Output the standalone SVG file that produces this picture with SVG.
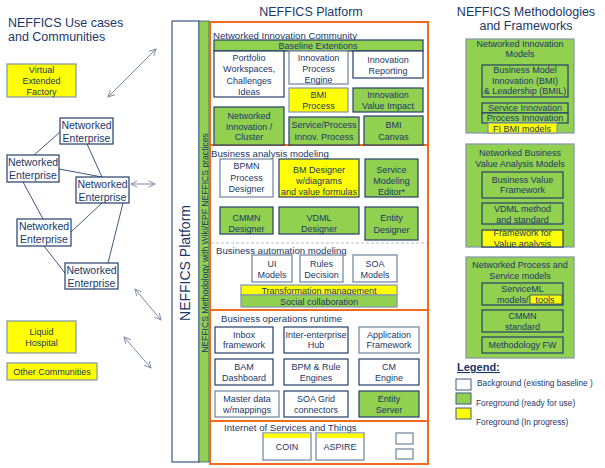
<svg xmlns="http://www.w3.org/2000/svg" width="605" height="468" viewBox="0 0 605 468">
<defs>
<style>
text{font-family:"Liberation Sans",Arial,sans-serif;fill:#1B3768;}
.t{font-size:12.5px;}
.s{font-size:9.6px;}
.b{font-size:9px;text-anchor:middle;}
.ne{font-size:10.5px;text-anchor:middle;}
.lg{font-size:8.3px;}
.w{fill:#fff;stroke:#243F6B;stroke-width:1.2;}
.wg{fill:#fff;stroke:#8194AB;stroke-width:1.4;}
.g{fill:#92D050;stroke:#243F6B;stroke-width:1.2;}
.gg{fill:#92D050;stroke:#8194AB;stroke-width:1.2;}
.y{fill:#FFFF00;stroke:#243F6B;stroke-width:1.2;}
.yg{fill:#FFFF00;stroke:#8194AB;stroke-width:1.2;}
.or{fill:none;stroke:#F26B1D;stroke-width:2;}
.ln{stroke:#3D5A80;stroke-width:1;fill:none;}
.ar{stroke:#7E8DA3;stroke-width:1;fill:none;marker-start:url(#ah);marker-end:url(#ah);}
</style>
<marker id="ah" viewBox="0 0 10 10" refX="9" refY="5" markerWidth="8" markerHeight="8" orient="auto-start-reverse" markerUnits="userSpaceOnUse">
<path d="M1,1 L9,5 L1,9" fill="none" stroke="#7E8DA3" stroke-width="1.2"/>
</marker>
<clipPath id="cf"><rect x="482" y="230" width="81" height="17"/></clipPath>
</defs>

<!-- Titles -->
<text class="t" x="8" y="27">NEFFICS Use cases</text>
<text class="t" x="8" y="40.5">and Communities</text>
<text class="t" x="311" y="16" text-anchor="middle">NEFFICS Platform</text>
<text class="t" x="526" y="16" text-anchor="middle">NEFFICS Methodologies</text>
<text class="t" x="526" y="30" text-anchor="middle">and Frameworks</text>

<!-- Connectors -->
<g id="connectors">
<line class="ln" x1="60" y1="132" x2="34" y2="155"/>
<line class="ln" x1="87" y1="144" x2="102" y2="177"/>
<line class="ln" x1="59" y1="169" x2="102" y2="177"/>
<line class="ln" x1="23" y1="182" x2="43" y2="219"/>
<line class="ln" x1="102" y1="203" x2="71" y2="232"/>
<line class="ln" x1="123" y1="203" x2="108" y2="263"/>
<line class="ln" x1="44" y1="246" x2="65" y2="273"/>
<line class="ar" x1="131" y1="184" x2="155" y2="184"/>
<line class="ar" x1="108" y1="97" x2="156" y2="49"/>
<line class="ar" x1="135" y1="289" x2="161" y2="320"/>
<line class="ar" x1="124" y1="337" x2="151" y2="368"/>
</g>

<!-- Left use cases -->
<g id="virtual-extended-factory">
<rect class="yg" x="7" y="64" width="69" height="33"/>
<text class="b" x="41.5" y="72.6">Virtual</text>
<text class="b" x="41.5" y="84">Extended</text>
<text class="b" x="41.5" y="95">Factory</text>
</g>
<g id="ne-a"><rect class="w" x="60" y="118" width="53" height="26"/>
<text class="ne" x="86.5" y="129">Networked</text><text class="ne" x="86.5" y="142">Enterprise</text></g>
<g id="ne-b"><rect class="w" x="7" y="155" width="52" height="27"/>
<text class="ne" x="33" y="166">Networked</text><text class="ne" x="33" y="179">Enterprise</text></g>
<g id="ne-c"><rect class="w" x="76" y="177" width="53" height="26"/>
<text class="ne" x="102.5" y="188">Networked</text><text class="ne" x="102.5" y="201">Enterprise</text></g>
<g id="ne-d"><rect class="w" x="17" y="219" width="54" height="27"/>
<text class="ne" x="44" y="230">Networked</text><text class="ne" x="44" y="243">Enterprise</text></g>
<g id="ne-e"><rect class="w" x="65" y="263" width="53" height="26"/>
<text class="ne" x="91.5" y="274">Networked</text><text class="ne" x="91.5" y="287">Enterprise</text></g>
<g id="liquid-hospital">
<rect class="yg" x="7" y="321" width="69" height="32"/>
<text class="b" x="41.5" y="335">Liquid</text>
<text class="b" x="41.5" y="346">Hospital</text>
</g>
<g id="other-communities">
<rect class="yg" x="7" y="363" width="90" height="17"/>
<text class="b" x="52" y="375">Other Communities</text>
</g>

<!-- Platform side bars -->
<g id="platform-bar">
<rect x="172" y="21" width="27" height="441" fill="#fff" stroke="#3B5A85" stroke-width="1.2"/>
<text x="190" y="263" font-size="14" text-anchor="middle" transform="rotate(-90 190 263)">NEFFICS Platform</text>
</g>
<g id="methodology-bar">
<rect x="199" y="21" width="10" height="441" fill="#92D050" stroke="#3B5A85" stroke-width="0.8"/>
<text x="207.5" y="243" font-size="8.6" text-anchor="middle" transform="rotate(-90 207.5 243)">NEFFICS Methodology with Wiki/EPF NEFFICS practices</text>
</g>

<!-- Orange frame -->
<g id="platform-frame">
<rect class="or" x="210" y="22" width="218" height="442"/>
<line class="or" x1="210" y1="145" x2="428" y2="145"/>
<line class="or" x1="210" y1="310" x2="428" y2="310"/>
<line class="or" x1="210" y1="421" x2="428" y2="421"/>
<line x1="211" y1="243" x2="427" y2="243" stroke="#B8BEC8" stroke-width="1.2" stroke-dasharray="3,2"/>
</g>

<!-- Networked Innovation Community -->
<text class="s" x="213" y="38.5">Networked Innovation Community</text>
<g id="baseline-ext"><rect class="g" x="214" y="40" width="209" height="11"/>
<text class="b" x="318" y="49">Baseline Extentions</text></g>
<g id="portfolio"><rect class="w" x="214" y="51" width="70" height="46"/>
<text class="b" x="249" y="61">Portfolio</text><text class="b" x="249" y="72.3">Workspaces,</text>
<text class="b" x="249" y="83.6">Challenges</text><text class="b" x="249" y="95">Ideas</text></g>
<g id="innov-engine"><rect class="wg" x="289" y="51" width="59" height="33"/>
<text class="b" x="318.5" y="61">Innovation</text><text class="b" x="318.5" y="72">Process</text><text class="b" x="318.5" y="82.5">Engine</text></g>
<g id="innov-reporting"><rect class="w" x="353" y="51" width="70" height="27"/>
<text class="b" x="388" y="63.3">Innovation</text><text class="b" x="388" y="74.3">Reporting</text></g>
<g id="bmi-process"><rect class="yg" x="289" y="88" width="59" height="24"/>
<text class="b" x="318.5" y="98.3">BMI</text><text class="b" x="318.5" y="109.3">Process</text></g>
<g id="innov-value"><rect class="g" x="353" y="88" width="70" height="24"/>
<text class="b" x="388" y="98.3">Innovation</text><text class="b" x="388" y="109.3">Value Impact</text></g>
<g id="ni-cluster"><rect class="g" x="214" y="107" width="70" height="38"/>
<text class="b" x="249" y="119.3">Networked</text><text class="b" x="249" y="129.6">Innovation /</text><text class="b" x="249" y="140">Cluster</text></g>
<g id="sp-innov"><rect class="g" x="289" y="117" width="70" height="28"/>
<text class="b" x="324" y="128.3">Service/Process</text><text class="b" x="324" y="140">Innov. Process</text></g>
<g id="bmi-canvas"><rect class="g" x="364" y="116" width="59" height="29"/>
<text class="b" x="393.5" y="128.3">BMI</text><text class="b" x="393.5" y="139.5">Canvas</text></g>

<!-- Business analysis modeling -->
<text class="s" x="211" y="156.5">Business analysis modeling</text>
<g id="bpmn"><rect class="wg" x="220" y="159" width="53" height="38"/>
<text class="b" x="246.5" y="169.3">BPMN</text><text class="b" x="246.5" y="181">Process</text><text class="b" x="246.5" y="192">Designer</text></g>
<g id="bm-designer"><rect class="y" x="279" y="159" width="80" height="38"/>
<text class="b" x="319" y="173.3">BM  Designer</text><text class="b" x="319" y="184.3">w/diagrams</text><text class="b" x="319" y="195">and value formulas</text></g>
<g id="service-modeling"><rect class="g" x="365" y="159" width="53" height="38"/>
<text class="b" x="391.5" y="173.3">Service</text><text class="b" x="391.5" y="184.3">Modeling</text><text class="b" x="391.5" y="195">Editor*</text></g>
<g id="cmmn-designer"><rect class="g" x="220" y="207" width="53" height="27"/>
<text class="b" x="246.5" y="221">CMMN</text><text class="b" x="246.5" y="232">Designer</text></g>
<g id="vdml-designer"><rect class="g" x="279" y="207" width="80" height="27"/>
<text class="b" x="319" y="221">VDML</text><text class="b" x="319" y="232">Designer</text></g>
<g id="entity-designer"><rect class="g" x="365" y="207" width="53" height="33"/>
<text class="b" x="391.5" y="221.3">Entity</text><text class="b" x="391.5" y="233.3">Designer</text></g>

<!-- Business automation modeling -->
<text class="s" x="216" y="253.5">Business automation modeling</text>
<g id="ui-models"><rect class="wg" x="252" y="255" width="40" height="27"/>
<text class="b" x="272" y="266.6">UI</text><text class="b" x="272" y="278.3">Models</text></g>
<g id="rules-decision"><rect class="wg" x="300" y="255" width="43" height="27"/>
<text class="b" x="321.5" y="266.6">Rules</text><text class="b" x="321.5" y="278.3">Decision</text></g>
<g id="soa-models"><rect class="wg" x="353" y="255" width="44" height="27"/>
<text class="b" x="375" y="266.6">SOA</text><text class="b" x="375" y="278.3">Models</text></g>
<g id="transformation"><rect class="yg" x="241" y="285" width="156" height="10"/>
<text class="b" x="319" y="293.8">Transformation management</text></g>
<g id="social"><rect class="gg" x="241" y="295" width="156" height="12"/>
<text class="b" x="319" y="305.3">Social collaboration</text></g>

<!-- Business operations runtime -->
<text class="s" x="221" y="321.5">Business operations runtime</text>
<g id="inbox"><rect class="w" x="215" y="327" width="58" height="26"/>
<text class="b" x="244" y="337.6">Inbox</text><text class="b" x="244" y="348.3">framework</text></g>
<g id="hub"><rect class="w" x="284" y="327" width="64" height="26"/>
<text class="b" x="316" y="337.6">Inter-enterprise</text><text class="b" x="316" y="348.3">Hub</text></g>
<g id="app-fw"><rect class="wg" x="359" y="327" width="60" height="26"/>
<text class="b" x="389" y="337.6">Application</text><text class="b" x="389" y="348.3">Framework</text></g>
<g id="bam"><rect class="w" x="215" y="359" width="58" height="26"/>
<text class="b" x="244" y="370">BAM</text><text class="b" x="244" y="381">Dashboard</text></g>
<g id="bpm-rule"><rect class="w" x="284" y="359" width="64" height="26"/>
<text class="b" x="316" y="370">BPM &amp; Rule</text><text class="b" x="316" y="381">Engines</text></g>
<g id="cm-engine"><rect class="w" x="359" y="359" width="60" height="26"/>
<text class="b" x="389" y="370">CM</text><text class="b" x="389" y="381">Engine</text></g>
<g id="master-data"><rect class="wg" x="215" y="391" width="64" height="26"/>
<text class="b" x="247" y="402.3">Master data</text><text class="b" x="247" y="413.3">w/mappings</text></g>
<g id="soa-grid"><rect class="w" x="284" y="391" width="64" height="26"/>
<text class="b" x="316" y="402.3">SOA Grid</text><text class="b" x="316" y="413.3">connectors</text></g>
<g id="entity-server"><rect class="g" x="359" y="391" width="60" height="26"/>
<text class="b" x="389" y="402.3">Entity</text><text class="b" x="389" y="413.3">Server</text></g>

<!-- Internet of Services and Things -->
<text class="s" x="224" y="430.5">Internet of Services and Things</text>
<g id="coin"><rect class="wg" x="263" y="433" width="48" height="27"/>
<rect x="264" y="433.5" width="46" height="4.5" fill="#FFFF00"/>
<text class="b" x="287" y="450">COIN</text></g>
<g id="aspire"><rect class="wg" x="316" y="433" width="48" height="27"/>
<rect x="317" y="433.5" width="46" height="4.5" fill="#FFFF00"/>
<text class="b" x="340" y="450">ASPIRE</text></g>
<g id="small-1"><rect class="wg" x="396" y="433" width="17" height="11"/></g>
<g id="small-2"><rect class="wg" x="396" y="449" width="17" height="10"/></g>

<!-- Right: methodologies -->
<g id="ni-models">
<rect class="gg" x="466" y="39" width="108" height="94"/>
<text class="b" x="520" y="46.5">Networked Innovation</text>
<text class="b" x="520" y="56.5">Models</text>
</g>
<g id="bmi-models"><rect class="g" x="482" y="65" width="86" height="32"/>
<text class="b" x="525" y="73.3">Business Model</text><text class="b" x="525" y="84">Innovation (BMI)</text><text class="b" x="525" y="94">&amp; Leadership (BMIL)</text></g>
<g id="service-innovation"><rect class="g" x="482" y="103" width="86" height="10"/>
<text class="b" x="525" y="111">Service Innovation</text></g>
<g id="process-innovation"><rect class="g" x="482" y="113" width="86" height="10"/>
<text class="b" x="525" y="121">Process Innovation</text></g>
<g id="fi-bmi"><rect class="yg" x="488" y="123" width="69" height="10"/>
<text class="b" x="522" y="131.5">FI BMI models</text></g>

<g id="nbva-models">
<rect class="gg" x="466" y="144" width="108" height="103"/>
<text class="b" x="520" y="156">Networked Business</text>
<text class="b" x="520" y="166.6">Value  Analysis Models</text>
</g>
<g id="bv-framework"><rect class="g" x="482" y="172" width="81" height="26"/>
<text class="b" x="522.5" y="183.3">Business Value</text><text class="b" x="522.5" y="193.3">Framework</text></g>
<g id="vdml-method"><rect class="g" x="482" y="203" width="81" height="21"/>
<text class="b" x="522.5" y="212.3">VDML method</text><text class="b" x="522.5" y="223">and  standard</text></g>
<g id="fw-value"><rect x="482" y="230" width="81" height="17" fill="#FFFF00" stroke="#243F6B" stroke-width="1.2"/>
<g clip-path="url(#cf)"><text class="b" x="522.5" y="236">Framework for</text><text class="b" x="522.5" y="247">Value analysis</text></g></g>

<g id="nps-models">
<rect class="gg" x="466" y="257" width="108" height="101"/>
<text class="b" x="520" y="268.3">Networked Process and</text>
<text class="b" x="520" y="279">Service models</text>
</g>
<g id="serviceml"><rect class="g" x="482" y="283" width="81" height="22"/>
<text class="b" x="522.5" y="292.3">ServiceML</text>
<text x="497" y="303.3" font-size="9">models/</text>
<rect x="530" y="295" width="32" height="9" fill="#FFFF00" stroke="#243F6B" stroke-width="0.8"/>
<text class="b" x="545" y="303">tools</text></g>
<g id="cmmn-standard"><rect class="g" x="482" y="310" width="81" height="22"/>
<text class="b" x="522.5" y="319.3">CMMN</text><text class="b" x="522.5" y="330">standard</text></g>
<g id="methodology-fw"><rect class="g" x="482" y="337" width="81" height="16"/>
<text class="b" x="522.5" y="348.3">Methodology FW</text></g>

<!-- Legend -->
<g id="legend">
<text x="457" y="371" font-size="11" font-weight="bold" text-decoration="underline">Legend:</text>
<rect x="456" y="379" width="15" height="11" fill="#fff" stroke="#3B5A85" stroke-width="1"/>
<text class="lg" x="477" y="386">Background (existing baseline )</text>
<rect x="456" y="393" width="15" height="11" fill="#92D050" stroke="#3B5A85" stroke-width="1"/>
<text class="lg" x="476" y="406">Foreground (ready for use)</text>
<rect x="456" y="408" width="15" height="11" fill="#FFFF00" stroke="#3B5A85" stroke-width="1"/>
<text class="lg" x="476" y="425">Foreground (In progress)</text>
</g>
</svg>
